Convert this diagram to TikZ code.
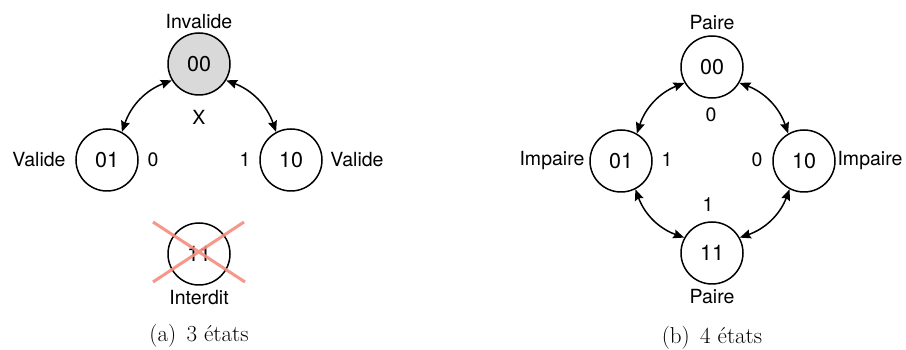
\documentclass[tikz,border=0pt]{standalone}
\usepackage{fontspec}
\setsansfont{TeX Gyre Heros}
\usetikzlibrary{arrows.meta}
\definecolor{stategray}{HTML}{D9D9D9}
\definecolor{crossred}{HTML}{F58C7D}
\begin{document}
\begin{tikzpicture}[x=1pt,y=1pt,
  state/.style={circle,draw,line width=1.5pt,minimum size=62pt,inner sep=0pt,
    font=\sffamily\fontsize{21.5}{25}\selectfont},
  lab/.style={inner sep=1pt,font=\sffamily\fontsize{19.5}{23}\selectfont},
  captext/.style={inner sep=1pt,font=\fontsize{23}{27}\selectfont},
  link/.style={line width=1.5pt,{Stealth[length=11pt,width=9pt,inset=1.5pt]}-{Stealth[length=11pt,width=9pt,inset=1.5pt]}}]
\useasboundingbox (0,0) rectangle (906,350);
% left panel
\node[state,fill=stategray] (a00) at (199,286) {00};
\node[state] (a01) at (107,190) {01};
\node[state] (a10) at (291,190) {10};
\node[state] (a11) at (199,96) {11};
\node[lab] (inv) at (199,328) {Invalide};
\node[lab] (x) at (199,233) {X};
\node[lab] (vl) at (39,190) {Valide};
\node[lab] (vr) at (357,190) {Valide};
\node[lab] (l0) at (153,190) {0};
\node[lab] (l1) at (245,190) {1};
\node[lab] (intd) at (199,52) {Interdit};
\node[captext] (capa) at (199,14) {(a)\hspace{0.45em}3 états};
\draw[link] (a00.-149) to[bend right=25] (a01.62);
\draw[link] (a00.-31) to[bend left=25] (a10.118);
\coordinate (c1) at (153,128);
\coordinate (c2) at (245,68);
\coordinate (c3) at (244,128);
\coordinate (c4) at (153,68);
\draw[crossred,line width=3pt,opacity=0.9] (c1) -- (c2) (c3) -- (c4);
% right panel
\node[state] (b00) at (712,283) {00};
\node[state] (b01) at (621,189) {01};
\node[state] (b10) at (804,189) {10};
\node[state] (b11) at (712,97) {11};
\node[lab] (pt) at (712,327) {Paire};
\node[lab] (pb) at (712,53) {Paire};
\node[lab] (il) at (552,189) {Impaire};
\node[lab] (ir) at (870,189) {Impaire};
\node[lab] (m0) at (711,235) {0};
\node[lab] (m1) at (667,190) {1};
\node[lab] (m2) at (757,190) {0};
\node[lab] (m3) at (708,145) {1};
\node[captext] (capb) at (712,12) {(b)\hspace{0.45em}4 états};
\draw[link] (b00.-150) to[bend right=25] (b01.60);
\draw[link] (b00.-30) to[bend left=25] (b10.120);
\draw[link] (b01.-63) to[bend right=25] (b11.151);
\draw[link] (b10.-117) to[bend left=25] (b11.29);
\end{tikzpicture}
\end{document}
